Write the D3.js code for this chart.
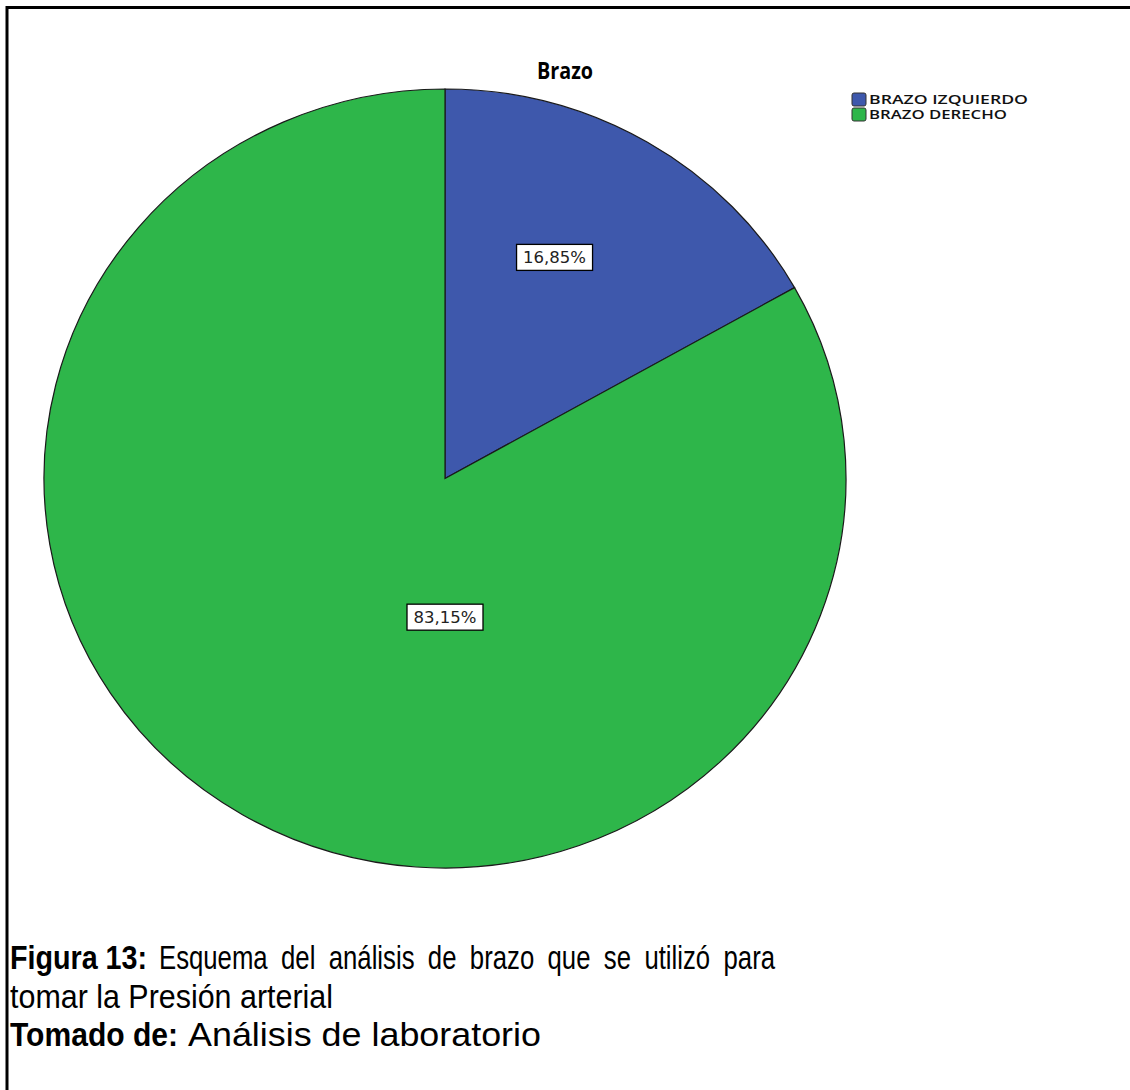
<!DOCTYPE html>
<html lang="es">
<head>
    <meta charset="UTF-8">
    <title>Brazo</title>
    <script src="https://d3js.org/d3.v7.min.js"></script>
    <style>
        body { margin: 0; background: #fff; }
        .caption { font-family: "Liberation Sans", Arial, sans-serif; font-size: 33px; fill: #000; }
    </style>
</head>
<body>
    <svg id="chart" width="1130" height="1090"></svg>
    <script>
        const categories = ["BRAZO IZQUIERDO", "BRAZO DERECHO"];
        const percents = [16.85, 83.15];
        const colors = ["#3E58AC", "#2EB64A"];
        const title = "Brazo";
        // label anchor per slice: angle (deg, clockwise from top) and fraction of radius
        const labelAnchors = [{angle: 25.7, r: 0.63}, {angle: 180, r: 0.356}];
        // caption segments: text, bold, line, start x, end x (fitted to the scan)
        const captionParts = [
            {t: "Figura 13:", b: true, line: 0, x0: 10, x1: 147},
            {t: "Esquema del análisis de brazo que se utilizó para", b: false, line: 0, x0: 159, x1: 775},
            {t: "tomar la Presión arterial", b: false, line: 1, x0: 10, x1: 333},
            {t: "Tomado de:", b: true, line: 2, x0: 10, x1: 178},
            {t: "Análisis de laboratorio", b: false, line: 2, x0: 188, x1: 541}
        ];

        const svg = d3.select("#chart");

        // outer frame (open on right and bottom, as in the scan)
        svg.append("path")
            .attr("d", "M7,1095 L7,7.5 L1140,7.5")
            .attr("fill", "none")
            .attr("stroke", "#000")
            .attr("stroke-width", 3);

        const cx = 445, cy = 478.5, rx = 401, ry = 389.5;

        const pie = d3.pie().sort(null).value(d => d)(percents);
        const arc = d3.arc().innerRadius(0).outerRadius(rx);

        const g = svg.append("g")
            .attr("transform", `translate(${cx},${cy}) scale(1,${ry / rx})`);

        g.selectAll("path.slice")
            .data(pie)
            .enter()
            .append("path")
            .attr("class", "slice")
            .attr("d", arc)
            .attr("fill", (d, i) => colors[i])
            .attr("stroke", "#1a1a1a")
            .attr("stroke-width", 1.2)
            .attr("vector-effect", "non-scaling-stroke");

        // value labels
        const fmt = v => d3.format(".2f")(v).replace(".", ",") + "%";
        const labels = svg.selectAll("g.lbl")
            .data(pie)
            .enter()
            .append("g")
            .attr("class", "lbl")
            .attr("transform", (d, i) => {
                const a = labelAnchors[i].angle * Math.PI / 180;
                const x = cx + Math.sin(a) * rx * labelAnchors[i].r;
                const y = cy - Math.cos(a) * ry * labelAnchors[i].r;
                return `translate(${x},${y})`;
            });

        labels.append("rect")
            .attr("x", -38).attr("y", -13)
            .attr("width", 76).attr("height", 26)
            .attr("fill", "#fff")
            .attr("stroke", "#000")
            .attr("stroke-width", 1.3);

        labels.append("text")
            .attr("text-anchor", "middle")
            .attr("dy", "0.37em")
            .style("font-family", "'DejaVu Sans', sans-serif")
            .style("font-size", "16.5px")
            .style("fill", "#222")
            .text((d, i) => fmt(percents[i]));

        // title
        svg.append("text")
            .attr("x", 565).attr("y", 79)
            .attr("text-anchor", "middle")
            .style("font-family", "'Open Sans', sans-serif")
            .style("font-weight", "bold")
            .style("font-size", "24px")
            .attr("textLength", 56)
            .attr("lengthAdjust", "spacingAndGlyphs")
            .text(title);

        // legend
        const legend = svg.append("g").attr("transform", "translate(852,93)");
        const item = legend.selectAll("g")
            .data(categories)
            .enter()
            .append("g")
            .attr("transform", (d, i) => `translate(0,${i * 15})`);
        item.append("rect")
            .attr("width", 14).attr("height", 13)
            .attr("rx", 2)
            .attr("fill", (d, i) => colors[i])
            .attr("stroke", "#333")
            .attr("stroke-width", 1);
        const legendWidths = [159, 138];
        item.append("text")
            .attr("x", 17).attr("y", 11)
            .style("font-family", "'Open Sans', sans-serif")
            .style("font-size", "12.5px")
            .style("font-weight", 600)
            .style("fill", "#111")
            .attr("textLength", (d, i) => legendWidths[i])
            .attr("lengthAdjust", "spacingAndGlyphs")
            .text(d => d);

        // caption
        const baselines = [969, 1008, 1046];
        svg.selectAll("text.caption")
            .data(captionParts)
            .enter()
            .append("text")
            .attr("class", "caption")
            .attr("x", d => d.x0)
            .attr("y", d => baselines[d.line])
            .style("font-weight", d => d.b ? "bold" : "normal")
            .style("word-spacing", d => (d.line === 0 && !d.b) ? "8px" : "0px")
            .attr("textLength", d => d.x1 - d.x0)
            .attr("lengthAdjust", "spacingAndGlyphs")
            .text(d => d.t);
    </script>
</body>
</html>
